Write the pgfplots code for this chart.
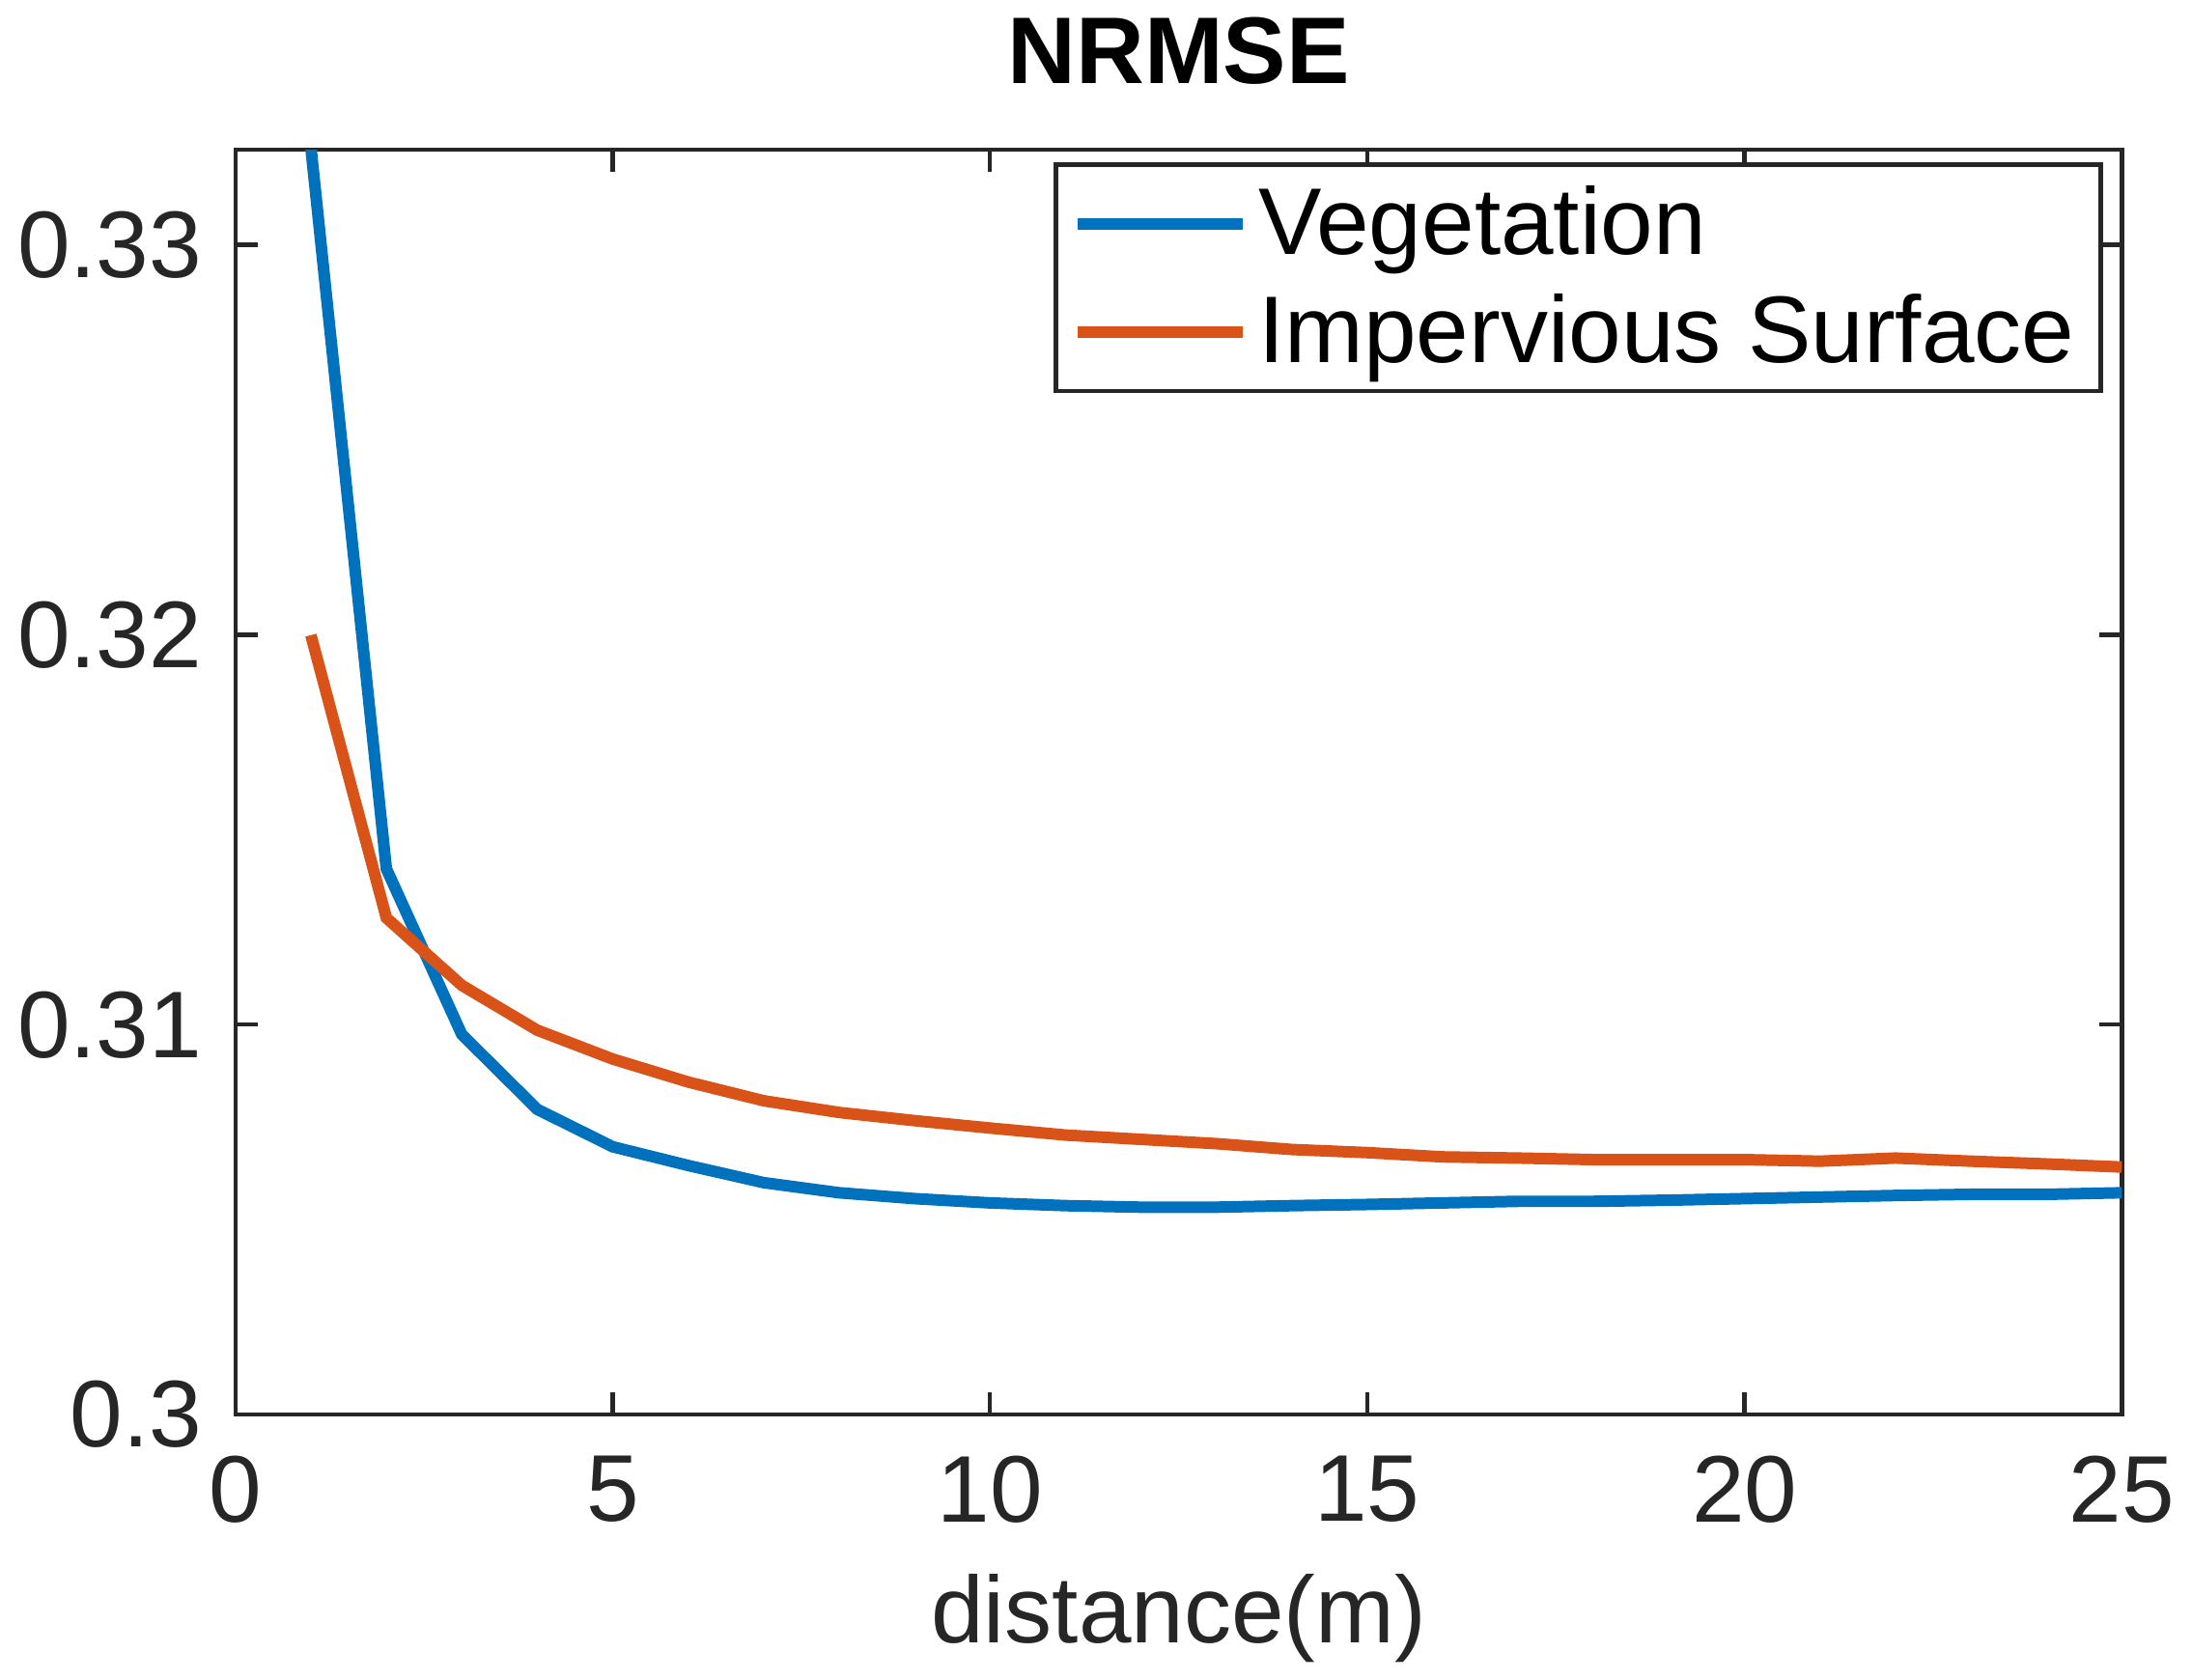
\documentclass[border=0pt]{standalone}
\usepackage{pgfplots}
\pgfplotsset{compat=1.18}
\usepackage{fontspec}
\setmainfont{Liberation Sans}
\definecolor{mblue}{HTML}{0072BD}
\definecolor{morange}{HTML}{D95319}
\begin{document}
\begin{tikzpicture}
\begin{axis}[
  scale only axis, width=12.6cm, height=8.45cm,
  xmin=0, xmax=25, ymin=0.3, ymax=0.33244,
  xtick={0,5,10,15,20,25},
  ytick={0.3,0.31,0.32,0.33},
  yticklabels={0.3,0.31,0.32,0.33},
  tick align=inside, tick pos=both,
  major tick length=0.15cm,
  axis line style={line width=0.8pt, black!85},
  tick style={line width=0.8pt, black!85},
  /pgf/number format/assume math mode=true,
  tick label style={font=\fontsize{18}{22}\selectfont, text=black!85},
  yticklabel style={xshift=-0.1cm},
  xticklabel style={yshift=-0.15cm},
  xlabel={distance(m)},
  xlabel style={font=\fontsize{18}{22}\selectfont, text=black!85, yshift=-0.1cm},
  title={\textbf{NRMSE}},
  title style={font=\fontsize{18}{22}\selectfont, yshift=0.1cm},
  legend style={at={(0.99,0.99)}, anchor=north east, draw=black!85, line width=0.8pt,
    font=\fontsize{18}{22}\selectfont, row sep=2pt},
  legend cell align=left,
  legend image code/.code={\draw[#1, line width=2.2pt] (0cm,0cm) -- (1.1cm,0cm);},
]
\addplot[mblue, line width=2.2pt] coordinates {
(1,0.3325) (2,0.3140) (3,0.30975) (4,0.30783) (5,0.30687) (6,0.30639) (7,0.30595)
(8,0.30569) (9,0.30554) (10,0.30543) (11,0.30536) (12,0.30532) (13,0.30532)
(14,0.30536) (15,0.30539) (16,0.30543) (17,0.30547) (18,0.30547) (19,0.30550)
(20,0.30554) (21,0.30558) (22,0.30562) (23,0.30565) (24,0.30565) (25,0.30569)};
\addlegendentry{Vegetation}
\addplot[morange, line width=2.2pt] coordinates {
(1,0.31999) (2,0.31274) (3,0.31101) (4,0.30986) (5,0.30912) (6,0.30853) (7,0.30805)
(8,0.30775) (9,0.30754) (10,0.30735) (11,0.30717) (12,0.30706) (13,0.30695)
(14,0.30680) (15,0.30672) (16,0.30661) (17,0.30658) (18,0.30654) (19,0.30654)
(20,0.30654) (21,0.30650) (22,0.30658) (23,0.30650) (24,0.30643) (25,0.30635)};
\addlegendentry{Impervious Surface}
\end{axis}
\end{tikzpicture}
\end{document}
